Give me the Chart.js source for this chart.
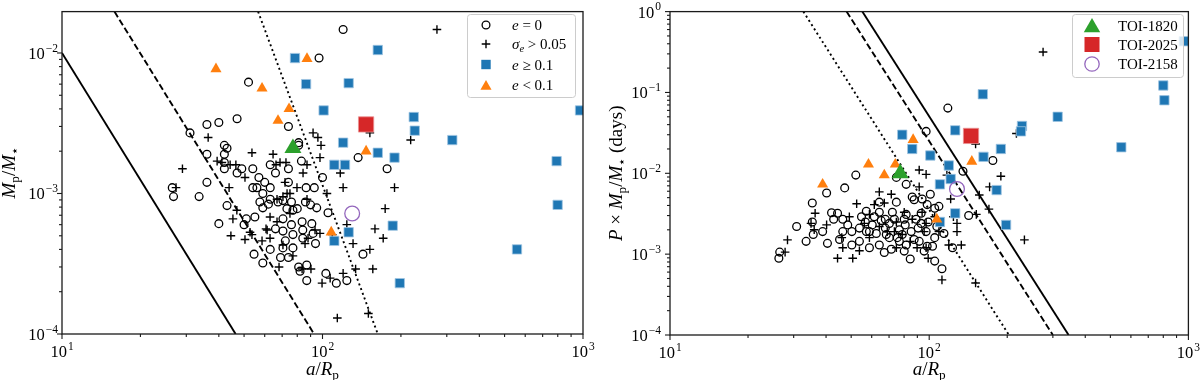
<!DOCTYPE html>
<html>
<head>
<meta charset="utf-8">
<script src="https://cdn.jsdelivr.net/npm/chart.js@4.4.1/dist/chart.umd.min.js"></script>
<style>
  body { margin: 0; background: #fff; }
  #wrap { position: relative; width: 1200px; height: 380px; }
  canvas { position: absolute; top: 0; }
</style>
</head>
<body>
<div id="wrap">
  <canvas id="leftChart" width="600" height="380" style="left:0"></canvas>
  <canvas id="rightChart" width="600" height="380" style="left:600px"></canvas>
</div>
<script>
// ---------- data: left panel (a/Rp vs Mp/M*) ----------
const leftCircles = [
  [120, 0.0147], [97, 0.0092], [52, 0.0062], [36, 0.0031], [40, 0.0032], [47, 0.0034], [74, 0.0030],
  [31, 0.0027], [81, 0.0023], [81, 0.0022], [42, 0.0022], [43, 0.0021], [42, 0.0019], [36, 0.0019],
  [83, 0.0017], [42, 0.00166], [42, 0.0015], [47, 0.0014], [49, 0.0015], [54, 0.0015], [63, 0.0016],
  [74, 0.0015], [137, 0.0018], [177, 0.0015], [100, 0.0013], [57, 0.0013], [66, 0.0014], [74, 0.0012],
  [36, 0.0012], [26.5, 0.0011], [26.8, 0.00095], [33.6, 0.00095], [54, 0.0011], [56, 0.0011], [60, 0.0012],
  [63, 0.0011], [59, 0.0010], [63, 0.00091], [57.5, 0.00087], [62, 0.00084], [67.5, 0.00087], [70.5, 0.00089],
  [76, 0.00087], [80, 0.00078], [86, 0.00087], [90, 0.00083], [95, 0.00079], [73, 0.00078], [77, 0.00076],
  [59, 0.00079], [86.5, 0.0011], [93, 0.0011], [43, 0.00082], [51, 0.00066], [55, 0.00068], [40, 0.00061],
  [50, 0.00060], [70.5, 0.00066], [76, 0.00060], [83.5, 0.00063], [91, 0.00061], [105, 0.00073], [66, 0.00056],
  [70.5, 0.00054], [84, 0.00055], [92, 0.00052], [77, 0.00051], [84, 0.00048], [94, 0.00044], [72, 0.00046],
  [77, 0.00041], [70.5, 0.00041], [63, 0.00040], [54.6, 0.00037], [69, 0.00035], [74, 0.00035], [59, 0.00032],
  [81, 0.00030], [87, 0.00031], [82, 0.00028], [87, 0.00024], [103, 0.00027], [113, 0.00023], [124, 0.00024],
  [143, 0.00037]
];
const leftCrosses = [
  [275, 0.0147], [92, 0.0027], [96, 0.0025], [98.7, 0.0022], [97.8, 0.0018], [152, 0.0027], [218, 0.0024],
  [117, 0.0014], [120, 0.0011], [189, 0.0011], [104, 0.0010], [36.4, 0.0025], [29, 0.0015], [39.4, 0.0017],
  [41.1, 0.00166], [44.2, 0.0016], [46.5, 0.0016], [53.6, 0.00195], [64.6, 0.0019], [66.3, 0.0016],
  [68.7, 0.00166], [72.4, 0.00166], [84.2, 0.0014], [87.2, 0.0016], [50.4, 0.0013], [43.8, 0.0011],
  [71.8, 0.0012], [79.8, 0.0011], [75, 0.0010], [66.9, 0.00091], [27.4, 0.0011], [174, 0.00078],
  [159, 0.00056], [171, 0.00048], [152, 0.00040], [156, 0.00029], [134, 0.00029], [120, 0.00027],
  [107, 0.00025], [99.6, 0.00023], [114, 0.00013], [150, 0.00014], [124, 0.00060], [131, 0.00044],
  [68.1, 0.00030], [83.5, 0.00029], [90.3, 0.00029], [44.5, 0.00050], [50.4, 0.00047], [45.3, 0.00066],
  [53.6, 0.00051], [61.3, 0.00055], [58.6, 0.00046], [62.9, 0.00068], [66.9, 0.00063], [70.5, 0.00043],
  [77, 0.00036], [75, 0.00072], [70.5, 0.00095], [73.1, 0.0010], [87.2, 0.00091], [97.8, 0.00052],
  [93.6, 0.00055], [109, 0.00051], [85.7, 0.00044], [88, 0.00048], [62.9, 0.00048], [60.7, 0.00056],
  [46.9, 0.00076], [52.7, 0.00053]
];
const leftSquares = [
  [78.4, 0.0092], [86.5, 0.0060], [126, 0.0061], [163, 0.0105], [101, 0.0039], [120, 0.0023], [163, 0.00195],
  [189, 0.0018], [111, 0.0016], [122, 0.0016], [224, 0.0035], [226, 0.0028], [315, 0.0024], [974, 0.0039],
  [792, 0.0017], [799, 0.00083], [558, 0.00040], [198, 0.00023], [186, 0.00059], [126, 0.00053], [111, 0.00046]
];
const leftTriangles = [
  [39, 0.0077], [58.6, 0.0056], [87.2, 0.0091], [74.4, 0.0040], [67.5, 0.0033], [147, 0.0020], [108, 0.00053]
];
const leftToi1820 = [[77, 0.0021]];
const leftToi2025 = [[147, 0.0031]];
const leftToi2158 = [[130, 0.00072]];
const leftSolid = [[10, 0.01], [46.4, 1e-4]];
const leftDashed = [[15.9, 0.0197], [92.8, 1e-4]];
const leftDotted = [[56.6, 0.0197], [163, 1e-4]];

// ---------- data: right panel (a/Rp vs P x Mp/M*) ----------
const rightCircles = [
  [118, 0.064], [97.3, 0.033], [176, 0.0144], [135, 0.0106], [101, 0.0055], [142, 0.0030], [105, 0.0037],
  [103, 0.00125], [123, 0.0012], [112, 0.00066], [84.5, 0.00087], [86, 0.0051], [52.1, 0.0095], [47.2, 0.0066],
  [40.2, 0.0057], [35.4, 0.0043], [30.8, 0.0022], [35.4, 0.0025], [35.7, 0.00175], [33.5, 0.00144],
  [40.5, 0.00136], [42, 0.00325], [42.8, 0.0027], [46.4, 0.0027], [50.3, 0.0019], [50.3, 0.0013],
  [53.8, 0.00144], [58.8, 0.0012], [57.2, 0.0034], [56.7, 0.0025], [60.3, 0.0023], [64.2, 0.0033],
  [65.3, 0.0026], [67.7, 0.0021], [72.1, 0.0033], [73.4, 0.0027], [76.7, 0.0020], [81.5, 0.0031],
  [80.8, 0.0023], [85.2, 0.0019], [89, 0.0027], [90.6, 0.0021], [97.3, 0.0019], [74.7, 0.0089],
  [81.5, 0.0073], [93.9, 0.0048], [98.2, 0.0041], [98.2, 0.00125], [70.2, 0.0016], [64.2, 0.0013],
  [46.4, 0.0019], [53.8, 0.0021], [57.2, 0.0019], [62.5, 0.0018], [68.3, 0.00175], [76.7, 0.00144],
  [81.5, 0.0013], [91.5, 0.00144], [26.5, 0.00106], [26.3, 0.00089], [44.3, 0.0032], [71.4, 0.00115],
  [78.7, 0.00175], [87.5, 0.0047], [67.7, 0.0027], [93.1, 0.0032], [107, 0.0022], [109, 0.0039],
  [114, 0.0018], [105, 0.0016], [99.1, 0.0025], [74.7, 0.0044], [64.2, 0.0044],
  [54.8, 0.0029], [61.4, 0.0029], [70.2, 0.0024], [80.1, 0.0027], [87.5, 0.00152], [93.1, 0.0024],
  [75.3, 0.0016], [58.8, 0.0019], [48.5, 0.0023], [45.1, 0.00152], [38.8, 0.0019], [80.1, 0.00109],
  [95.6, 0.00109], [67.1, 0.00105], [105, 0.00082]
];
const rightCrosses = [
  [275, 0.316], [217, 0.031], [151, 0.023], [189, 0.0092], [171, 0.0068], [156, 0.0054], [170, 0.0036],
  [121, 0.0048], [117, 0.0095], [97.3, 0.0097], [152, 0.0031], [124, 0.0029], [128, 0.0024], [128, 0.0019],
  [133, 0.0013], [119, 0.0013], [233, 0.0015], [99.1, 0.00089], [112, 0.00048], [151, 0.00044],
  [97.3, 0.0012], [36.3, 0.0032], [35, 0.0024], [36, 0.0020], [28.4, 0.0015], [27.8, 0.00106], [46, 0.0016],
  [44.3, 0.00089], [50.7, 0.00089], [64.2, 0.0059], [71.4, 0.0055], [67.1, 0.0043], [52.5, 0.0042],
  [58.8, 0.0031], [61.4, 0.0041], [64.2, 0.0022], [68.9, 0.0019], [78.7, 0.00175], [74.7, 0.0025],
  [86, 0.0027], [93.9, 0.0033], [97.3, 0.0024], [91.5, 0.011], [89.8, 0.0012], [74.7, 0.0012],
  [53.8, 0.0011], [58.8, 0.0016], [46.4, 0.0012], [40.2, 0.0023], [80.1, 0.0033], [105, 0.0029],
  [109, 0.0019], [91.5, 0.0068],
  [56.2, 0.0024], [84.5, 0.00144], [73.4, 0.0019], [49.2, 0.0029], [95.6, 0.0019]
];
const rightSquares = [
  [78.7, 0.030], [86, 0.020], [101, 0.0166], [126, 0.034], [161, 0.095], [119, 0.0125], [110, 0.0073],
  [121, 0.0085], [162, 0.016], [189, 0.020], [182, 0.0062], [228, 0.0385], [226, 0.033], [313, 0.05],
  [551, 0.021], [800, 0.122], [808, 0.080], [960, 0.43], [126, 0.0032], [110, 0.0025], [198, 0.0023]
];
const rightTriangles = [
  [38.8, 0.0073], [58.3, 0.0129], [67.1, 0.0095], [74, 0.0129], [86.7, 0.026], [146, 0.014], [107, 0.0027]
];
const rightToi1820 = [[77.3, 0.0100]];
const rightToi2025 = [[145, 0.029]];
const rightToi2158 = [[128, 0.0064]];
const rightSolid = [[55.2, 1], [345, 1e-4]];
const rightDashed = [[48, 1], [300, 1e-4]];
const rightDotted = [[32.7, 1], [203, 1e-4]];

// ---------- axes / ticks ----------
const xMajor = [10, 100, 1000];
const xMajorExp = ['1', '2', '3'];
const leftYMajor = [1e-4, 1e-3, 1e-2];
const leftYMajorExp = ['\u22124', '\u22123', '\u22122'];
const rightYMajor = [1e-4, 1e-3, 1e-2, 1e-1, 1];
const rightYMajorExp = ['\u22124', '\u22123', '\u22122', '\u22121', '0'];

const SERIF = '"Liberation Serif", "Times New Roman", serif';
const FRAME = '#1a1a1a';
const TICK_FONT = 16.5;
const TITLE_FONT = 19;
const LEGEND_FONT = 15;

// Marker styles (matplotlib tab10 colours)
const styles = {
  circle: { pointStyle: 'circle', pointRadius: 3.9, pointBackgroundColor: 'rgba(0,0,0,0)', pointBorderColor: '#000', pointBorderWidth: 1.3, order: 5 },
  cross: { pointStyle: 'cross', pointRadius: 4.3, pointBorderColor: '#000', pointBorderWidth: 1.4, order: 4 },
  square: { pointStyle: 'rect', pointRadius: 6.6, pointBackgroundColor: '#1f77b4', pointBorderColor: '#9fc5e2', pointBorderWidth: 0.8, order: 3 },
  tri: { pointStyle: 'triangle', pointRadius: 6.4, pointBackgroundColor: '#ff7f0e', pointBorderWidth: 0, order: 2 },
  toi1820: { pointStyle: 'triangle', pointRadius: 9.8, pointBackgroundColor: '#2ca02c', pointBorderWidth: 0, order: 1 },
  toi2025: { pointStyle: 'rect', pointRadius: 10.8, pointBackgroundColor: '#d62728', pointBorderColor: '#eb9293', pointBorderWidth: 0.8, order: 1 },
  toi2158: { pointStyle: 'circle', pointRadius: 7.4, pointBackgroundColor: 'rgba(0,0,0,0)', pointBorderColor: '#9467bd', pointBorderWidth: 1.3, order: 0 }
};

function pts(arr) {
  return arr.map(p => ({ x: p[0], y: p[1] }));
}

function markerSet(arr, style) {
  return Object.assign({ data: pts(arr), clip: 0 }, style);
}

function lineSet(arr, dash) {
  return {
    data: pts(arr), showLine: true, borderColor: '#000', borderWidth: 1.9,
    borderDash: dash, borderCapStyle: 'butt', pointRadius: 0, order: 6, clip: 0
  };
}

function minorTicks(majors, min, max) {
  const out = [];
  majors.forEach(m => {
    for (let k = 2; k <= 9; k++) {
      const v = m * k;
      if (v > min && v < max) out.push(v);
    }
  });
  return out;
}

// Draw text made of pieces: 'r' roman, 'i' italic, 'sub'/'subi' subscript, 'sup' superscript
function richText(ctx, segs, x, y, size, align) {
  const parts = segs.map(([t, kind]) => {
    const small = kind === 'sub' || kind === 'subi' || kind === 'sup';
    const fs = small ? size * 0.7 : size;
    const italic = kind === 'i' || kind === 'subi';
    const font = (italic ? 'italic ' : '') + fs.toFixed(1) + 'px ' + SERIF;
    ctx.font = font;
    const dy = kind === 'sup' ? -size * 0.45 : (small ? size * 0.22 : 0);
    const pad = kind === 'sup' ? 1 : 0;
    return { t, font, w: ctx.measureText(t).width + pad, dy, pad };
  });
  const total = parts.reduce((s, p) => s + p.w, 0);
  let cx = align === 'center' ? x - total / 2 : align === 'right' ? x - total : x;
  ctx.textAlign = 'left';
  ctx.textBaseline = 'alphabetic';
  parts.forEach(p => {
    ctx.font = p.font;
    ctx.fillText(p.t, cx + p.pad, y + p.dy);
    cx += p.w;
  });
}

function triPath(ctx, x, y, r) {
  const s = r * Math.sin(Math.PI / 3);
  ctx.beginPath();
  ctx.moveTo(x, y - r);
  ctx.lineTo(x - s, y + r / 2);
  ctx.lineTo(x + s, y + r / 2);
  ctx.closePath();
}

// Legend handles
function drawMarker(ctx, kind, x, y) {
  ctx.save();
  if (kind === 'circle') {
    ctx.strokeStyle = '#000'; ctx.lineWidth = 1.3;
    ctx.beginPath(); ctx.arc(x, y, 3.9, 0, Math.PI * 2); ctx.stroke();
  } else if (kind === 'cross') {
    ctx.strokeStyle = '#000'; ctx.lineWidth = 1.4;
    ctx.beginPath(); ctx.moveTo(x - 4.3, y); ctx.lineTo(x + 4.3, y);
    ctx.moveTo(x, y - 4.3); ctx.lineTo(x, y + 4.3); ctx.stroke();
  } else if (kind === 'square') {
    ctx.fillStyle = '#1f77b4'; ctx.fillRect(x - 4.7, y - 4.7, 9.4, 9.4);
  } else if (kind === 'tri') {
    ctx.fillStyle = '#ff7f0e'; triPath(ctx, x, y + 1.5, 6.4); ctx.fill();
  } else if (kind === 'toi1820') {
    ctx.fillStyle = '#2ca02c'; triPath(ctx, x, y + 2, 9.5); ctx.fill();
  } else if (kind === 'toi2025') {
    ctx.fillStyle = '#d62728'; ctx.fillRect(x - 7.5, y - 7.5, 15, 15);
  } else if (kind === 'toi2158') {
    ctx.strokeStyle = '#9467bd'; ctx.lineWidth = 1.3;
    ctx.beginPath(); ctx.arc(x, y, 7.2, 0, Math.PI * 2); ctx.stroke();
  }
  ctx.restore();
}

// Frame, ticks, tick labels, axis titles and legend in matplotlib style
function mplPlugin(cfg) {
  return {
    id: 'mpl_' + cfg.name,
    afterDraw(chart) {
      const ctx = chart.ctx;
      const a = chart.chartArea;
      const xs = chart.scales.x, ys = chart.scales.y;
      const line = (x1, y1, x2, y2) => { ctx.beginPath(); ctx.moveTo(x1, y1); ctx.lineTo(x2, y2); ctx.stroke(); };
      ctx.save();
      ctx.strokeStyle = FRAME;
      ctx.lineWidth = 1.1;
      xMajor.forEach(v => { const p = xs.getPixelForValue(v); line(p, a.bottom, p, a.bottom + 5); });
      minorTicks(xMajor, xs.min, xs.max).forEach(v => { const p = xs.getPixelForValue(v); line(p, a.bottom, p, a.bottom + 3); });
      cfg.yMajor.forEach(v => { const p = ys.getPixelForValue(v); line(a.left, p, a.left - 5, p); });
      minorTicks(cfg.yMajor, ys.min, ys.max).forEach(v => { const p = ys.getPixelForValue(v); line(a.left, p, a.left - 3, p); });
      ctx.lineWidth = 1.3;
      ctx.strokeRect(a.left, a.top, a.right - a.left, a.bottom - a.top);

      ctx.fillStyle = '#000';
      xMajor.forEach((v, i) => {
        richText(ctx, [['10', 'r'], [xMajorExp[i], 'sup']], xs.getPixelForValue(v), a.bottom + 23, TICK_FONT, 'center');
      });
      cfg.yMajor.forEach((v, i) => {
        richText(ctx, [['10', 'r'], [cfg.yMajorExp[i], 'sup']], cfg.yTickRight, ys.getPixelForValue(v) + 6, TICK_FONT, 'right');
      });

      richText(ctx, [['a', 'i'], ['/', 'r'], ['R', 'i'], ['p', 'sub']], (a.left + a.right) / 2, 375, TITLE_FONT, 'center');
      ctx.save();
      ctx.translate(cfg.yTitleX, (a.top + a.bottom) / 2);
      ctx.rotate(-Math.PI / 2);
      richText(ctx, cfg.yTitle, 0, 0, TITLE_FONT, 'center');
      ctx.restore();

      const L = cfg.legend;
      ctx.fillStyle = 'rgba(255,255,255,0.8)';
      ctx.strokeStyle = '#cccccc';
      ctx.lineWidth = 1;
      ctx.beginPath();
      ctx.roundRect(L.x + 0.5, L.y + 0.5, L.w, L.h, 3);
      ctx.fill();
      ctx.stroke();
      L.items.forEach(it => {
        drawMarker(ctx, it.marker, L.markerX, it.y);
        ctx.fillStyle = '#000';
        richText(ctx, it.label, L.textX, it.y + 5, LEGEND_FONT, 'left');
      });
      ctx.restore();
    }
  };
}

function makeChart(id, cfg) {
  return new Chart(document.getElementById(id), {
    type: 'scatter',
    data: { datasets: cfg.datasets },
    options: {
      responsive: false,
      animation: false,
      events: [],
      layout: { padding: cfg.padding },
      plugins: { legend: { display: false }, tooltip: { enabled: false } },
      scales: {
        x: {
          type: 'logarithmic', min: 10, max: 1000,
          ticks: { display: false }, grid: { display: false }, border: { display: false },
          afterFit: s => { s.height = cfg.xAxisHeight; }
        },
        y: {
          type: 'logarithmic', min: cfg.yMin, max: cfg.yMax,
          ticks: { display: false }, grid: { display: false }, border: { display: false },
          afterFit: s => { s.width = cfg.yAxisWidth; }
        }
      }
    },
    plugins: [mplPlugin(cfg)]
  });
}

makeChart('leftChart', {
  name: 'left',
  padding: { top: 7, right: 17, left: 0, bottom: 0 },
  xAxisHeight: 46,
  yAxisWidth: 62,
  yMin: 1e-4,
  yMax: 0.0197,
  yMajor: leftYMajor,
  yMajorExp: leftYMajorExp,
  yTickRight: 58,
  yTitleX: 15,
  yTitle: [['M', 'i'], ['p', 'sub'], ['/', 'r'], ['M', 'i'], ['\u22c6', 'sub']],
  datasets: [
    markerSet(leftToi2158, styles.toi2158),
    markerSet(leftToi2025, styles.toi2025),
    markerSet(leftToi1820, styles.toi1820),
    markerSet(leftTriangles, styles.tri),
    markerSet(leftSquares, styles.square),
    markerSet(leftCrosses, styles.cross),
    markerSet(leftCircles, styles.circle),
    lineSet(leftSolid, []),
    lineSet(leftDashed, [6.5, 3]),
    lineSet(leftDotted, [2, 3])
  ],
  legend: {
    x: 467, y: 14, w: 108, h: 83, markerX: 486, textX: 512,
    items: [
      { marker: 'circle', y: 25, label: [['e', 'i'], [' = 0', 'r']] },
      { marker: 'cross', y: 44, label: [['\u03c3', 'i'], ['e', 'subi'], [' > 0.05', 'r']] },
      { marker: 'square', y: 64.5, label: [['e', 'i'], [' \u2265 0.1', 'r']] },
      { marker: 'tri', y: 85, label: [['e', 'i'], [' < 0.1', 'r']] }
    ]
  }
});

makeChart('rightChart', {
  name: 'right',
  padding: { top: 7, right: 10, left: 0, bottom: 0 },
  xAxisHeight: 45,
  yAxisWidth: 70,
  yMin: 1e-4,
  yMax: 1,
  yMajor: rightYMajor,
  yMajorExp: rightYMajorExp,
  yTickRight: 61,
  yTitleX: 22,
  yTitle: [['P', 'i'], [' \u00d7 ', 'r'], ['M', 'i'], ['p', 'sub'], ['/', 'r'], ['M', 'i'], ['\u22c6', 'sub'], [' (days)', 'r']],
  datasets: [
    markerSet(rightToi2158, styles.toi2158),
    markerSet(rightToi2025, styles.toi2025),
    markerSet(rightToi1820, styles.toi1820),
    markerSet(rightTriangles, styles.tri),
    markerSet(rightSquares, styles.square),
    markerSet(rightCrosses, styles.cross),
    markerSet(rightCircles, styles.circle),
    lineSet(rightSolid, []),
    lineSet(rightDashed, [6.5, 3]),
    lineSet(rightDotted, [2, 3])
  ],
  legend: {
    x: 472, y: 14, w: 111, h: 63, markerX: 492, textX: 518,
    items: [
      { marker: 'toi1820', y: 25.5, label: [['TOI-1820', 'r']] },
      { marker: 'toi2025', y: 44.5, label: [['TOI-2025', 'r']] },
      { marker: 'toi2158', y: 64, label: [['TOI-2158', 'r']] }
    ]
  }
});
</script>
</body>
</html>
